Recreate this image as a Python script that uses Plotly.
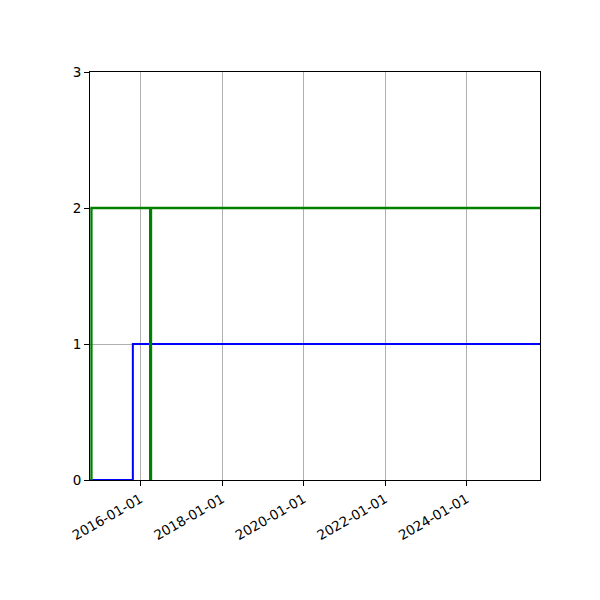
import plotly.graph_objects as go

# values
x_start = "2014-10-06"
x_end = "2025-10-21"

blue_dates = ["2014-10-06", "2015-10-25", "2025-10-21"]
blue_values = [0, 1, 1]

green_dates = ["2014-10-18", "2014-10-19", "2016-03-28", "2016-04-05", "2025-10-21"]
green_values = [0, 2, 0, 2, 2]

tick_dates = ["2016-01-01", "2018-01-01", "2020-01-01", "2022-01-01", "2024-01-01"]
y_ticks = [0, 1, 2, 3]

fig = go.Figure()
fig.add_trace(go.Scatter(x=blue_dates, y=blue_values, mode="lines",
                         line=dict(color="blue", width=2, shape="hv")))
fig.add_trace(go.Scatter(x=green_dates, y=green_values, mode="lines",
                         line=dict(color="green", width=2.3, shape="hv")))

# the page adds an 8px body margin, so shift the plot area back by 8px
fig.update_layout(
    width=600, height=600,
    margin=dict(l=82, r=68, t=64, b=128),
    plot_bgcolor="white", paper_bgcolor="white",
    showlegend=False,
    font=dict(family="DejaVu Sans", size=13.5, color="black"),
)
fig.update_xaxes(
    range=[x_start, x_end], tickvals=tick_dates, tickformat="%Y-%m-%d",
    tickangle=-30, ticks="outside", ticklen=5, tickcolor="black",
    showline=True, linecolor="black", linewidth=1.1, mirror=True,
    showgrid=True, gridcolor="#b0b0b0", gridwidth=1.1, zeroline=False,
)
fig.update_yaxes(
    range=[0, 3], tickvals=y_ticks,
    ticks="outside", ticklen=5, tickcolor="black",
    showline=True, linecolor="black", linewidth=1.1, mirror=True,
    showgrid=True, gridcolor="#b0b0b0", gridwidth=1.1, zeroline=False,
)

fig.write_html("out.html")
